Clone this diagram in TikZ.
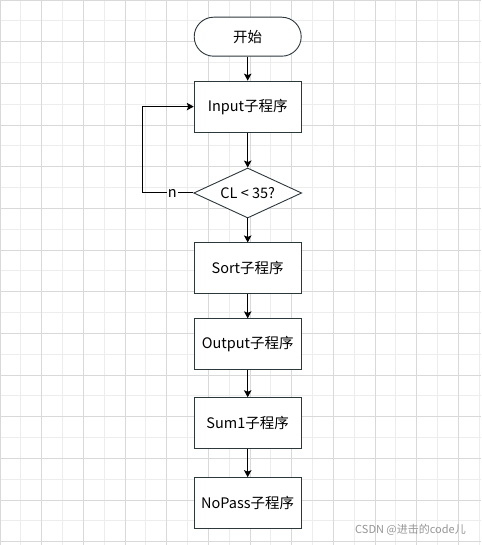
\documentclass[tikz,border=0pt]{standalone}
\usepackage{fontspec}
\setmainfont{Noto Sans CJK SC}
\usepackage{tikz}
\usetikzlibrary{positioning,arrows.meta,shapes.geometric}
\definecolor{boxrule}{RGB}{45,56,60}
\definecolor{gridlight}{RGB}{237,237,237}
\definecolor{griddark}{RGB}{217,217,217}
\definecolor{marktext}{RGB}{150,150,150}
\tikzset{
  terminal/.style={rectangle,rounded corners=19.5pt,draw=boxrule,line width=0.9pt,fill=white,align=center,minimum width=107pt,minimum height=39pt,font=\fontsize{14.5}{17}\selectfont},
  process/.style={rectangle,draw=boxrule,line width=0.9pt,fill=white,align=center,minimum width=107pt,minimum height=51pt,font=\fontsize{14.5}{17}\selectfont},
  decision/.style={diamond,aspect=2.16,inner sep=0pt,draw=boxrule,line width=0.9pt,fill=white,minimum width=108pt,minimum height=50pt,font=\fontsize{14.5}{17}\selectfont},
  edge/.style={-{Stealth[length=7pt,width=7.5pt,inset=1.5pt]},line width=1pt,black},
  edgelabel/.style={fill=white,inner sep=1pt,font=\fontsize{14.5}{17}\selectfont},
  watermark/.style={text=marktext,inner sep=0pt,font=\fontsize{11}{13}\selectfont}
}

\begin{document}
\begin{tikzpicture}[x=1pt,y=-1pt]
  \useasboundingbox (0,0) rectangle (481,545);
  \fill[white] (0,0) rectangle (481,545);
  % grid
  \foreach \i in {0,...,23}
    \draw[gridlight,line width=0.8pt] ({\i*20.833},0) -- ({\i*20.833},545);
  \foreach \j in {0,...,26}
    \draw[gridlight,line width=0.8pt] (0,{\j*20.833}) -- (481,{\j*20.833});
  \foreach \i in {0,...,11}
    \draw[griddark,line width=0.9pt] ({\i*41.667},0) -- ({\i*41.667},545);
  \foreach \j in {0,...,13}
    \draw[griddark,line width=0.9pt] (0,{\j*41.667}) -- (481,{\j*41.667});

  % flow
  \node[terminal] (start) at (247.7,36.7) {开始};
  \node[process,below=24pt of start] (input) {Input子程序};
  \node[decision,below=35pt of input] (check) {CL < 35?};
  \node[process,below=24pt of check] (sort) {Sort子程序};
  \node[process,below=24pt of sort] (output) {Output子程序};
  \node[process,below=27pt of output] (sum) {Sum1子程序};
  \node[process,below=28pt of sum] (nopass) {NoPass子程序};

  \draw[edge] (start) -- (input);
  \draw[edge] (input) -- (check);
  \draw[edge] (check) -- (sort);
  \draw[edge] (sort) -- (output);
  \draw[edge] (output) -- (sum);
  \draw[edge] (sum) -- (nopass);
  \draw[edge] (check.west) -- node[edgelabel,pos=0.41] {n} ++(-51,0) |- (input.west);

  \node[watermark,anchor=east] (mark) at (466,530) {CSDN @进击的code儿};
\end{tikzpicture}
\end{document}
